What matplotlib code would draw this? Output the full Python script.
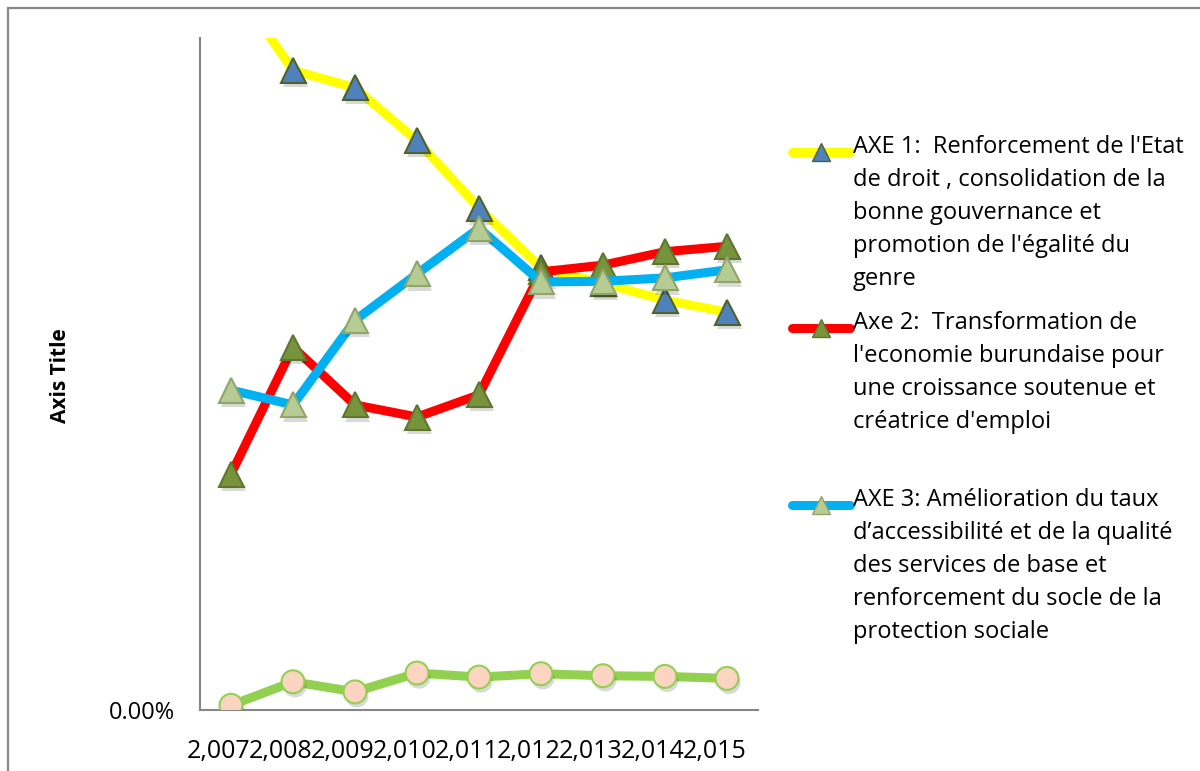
import numpy as np
import matplotlib
matplotlib.use("Agg")
import matplotlib.pyplot as plt
import matplotlib.patheffects as pe
import matplotlib.transforms as mtransforms
from matplotlib.lines import Line2D
from matplotlib.patches import Rectangle
from matplotlib.ticker import PercentFormatter

plt.rcParams['font.family'] = ['Open Sans', 'DejaVu Sans']

years = [2007, 2008, 2009, 2010, 2011, 2012, 2013, 2014, 2015]
axe1 = [1.085, 0.952, 0.926, 0.847, 0.747, 0.658, 0.635, 0.610, 0.592]
axe2 = [0.351, 0.540, 0.454, 0.436, 0.469, 0.652, 0.662, 0.682, 0.690]
axe3 = [0.476, 0.454, 0.580, 0.649, 0.717, 0.637, 0.638, 0.643, 0.655]
axe4 = [0.007, 0.042, 0.027, 0.055, 0.049, 0.054, 0.051, 0.050, 0.047]

labels = [
    "AXE 1:  Renforcement de l'Etat\nde droit , consolidation de la\nbonne gouvernance et\npromotion de l'égalité du\ngenre",
    "Axe 2:  Transformation de\nl'economie burundaise pour\nune croissance soutenue et\ncréatrice d'emploi",
    "AXE 3: Amélioration du taux\nd\u2019accessibilité et de la qualité\ndes services de base et\nrenforcement du socle de la\nprotection sociale",
]

# line colour, marker, marker face, marker edge
styles = [
    ("#FFFF00", "^", "#4F81BD", "#4F6228"),
    ("#FF0000", "^", "#77933C", "#5F7530"),
    ("#00B0F0", "^", "#B7CB94", "#8FA56A"),
    ("#92D050", "o", "#FBD5C1", "#92D050"),
]

fig = plt.figure(figsize=(12, 7.71), dpi=100)
fig.add_artist(Rectangle((8 / 1200, -0.1), 1.2, (763 - 0) / 771 + 0.1,
                         transform=fig.transFigure, fill=False,
                         edgecolor="#888888", linewidth=1.6))

ax = fig.add_axes([200 / 1200, 61 / 771, 558 / 1200, 672 / 771])
x = np.arange(len(years))
shadow = [pe.SimplePatchShadow(offset=(1.5, -3), shadow_rgbFace="#000000", alpha=0.15), pe.Normal()]

for i, ys in enumerate([axe1, axe2, axe3, axe4]):
    lc, mk, mf, me = styles[i]
    ax.plot(x, ys, color=lc, linewidth=6.5, solid_capstyle="butt", zorder=2 + i * 2)
    ms = 18 if mk == "^" else 16.5
    ax.plot(x, ys, linestyle="none", marker=mk, markersize=ms, markerfacecolor=mf,
            markeredgecolor=me, markeredgewidth=1.5, zorder=3 + i * 2, path_effects=shadow)

ax.set_xlim(-0.5, len(years) - 0.5)
ax.set_ylim(0, 1)
ax.set_xticks(x)
ax.set_xticklabels([f"{y:,}" for y in years], fontsize=18)
ax.set_yticks([0])
ax.yaxis.set_major_formatter(PercentFormatter(1, decimals=2))
ax.tick_params(axis="both", length=0)
ax.tick_params(axis="x", pad=21, labelsize=18)
ax.tick_params(axis="y", pad=18, labelsize=17)
# excel packs the crowded labels a bit to the left
shift = mtransforms.ScaledTranslation(-12 / 100, 0, fig.dpi_scale_trans)
for lab in ax.get_xticklabels():
    lab.set_transform(lab.get_transform() + shift)
for s in ["top", "right"]:
    ax.spines[s].set_visible(False)
for s in ["left", "bottom"]:
    ax.spines[s].set_color("#868686")
    ax.spines[s].set_linewidth(1.5)

fig.text(60 / 1200, 1 - 376 / 771, "Axis Title", rotation=90, fontsize=15,
         fontweight="bold", ha="center", va="center")

# legend, drawn by hand so the handle sits on the first line of text
tops = [152, 328, 505]
for i in range(3):
    lc, mk, mf, me = styles[i]
    yy = 1 - tops[i] / 771
    fig.add_artist(Line2D([792 / 1200, 850 / 1200], [yy, yy], color=lc, linewidth=6.5,
                          solid_capstyle="round", transform=fig.transFigure))
    fig.add_artist(Line2D([821 / 1200], [yy], marker=mk, markersize=13, markerfacecolor=mf,
                          markeredgecolor=me, markeredgewidth=1, transform=fig.transFigure))
    fig.text(853 / 1200, 1 - (tops[i] - 17) / 771, labels[i], fontsize=17, ha="left",
             va="top", linespacing=1.5, transform=fig.transFigure)

fig.savefig("out.png", dpi=100)
